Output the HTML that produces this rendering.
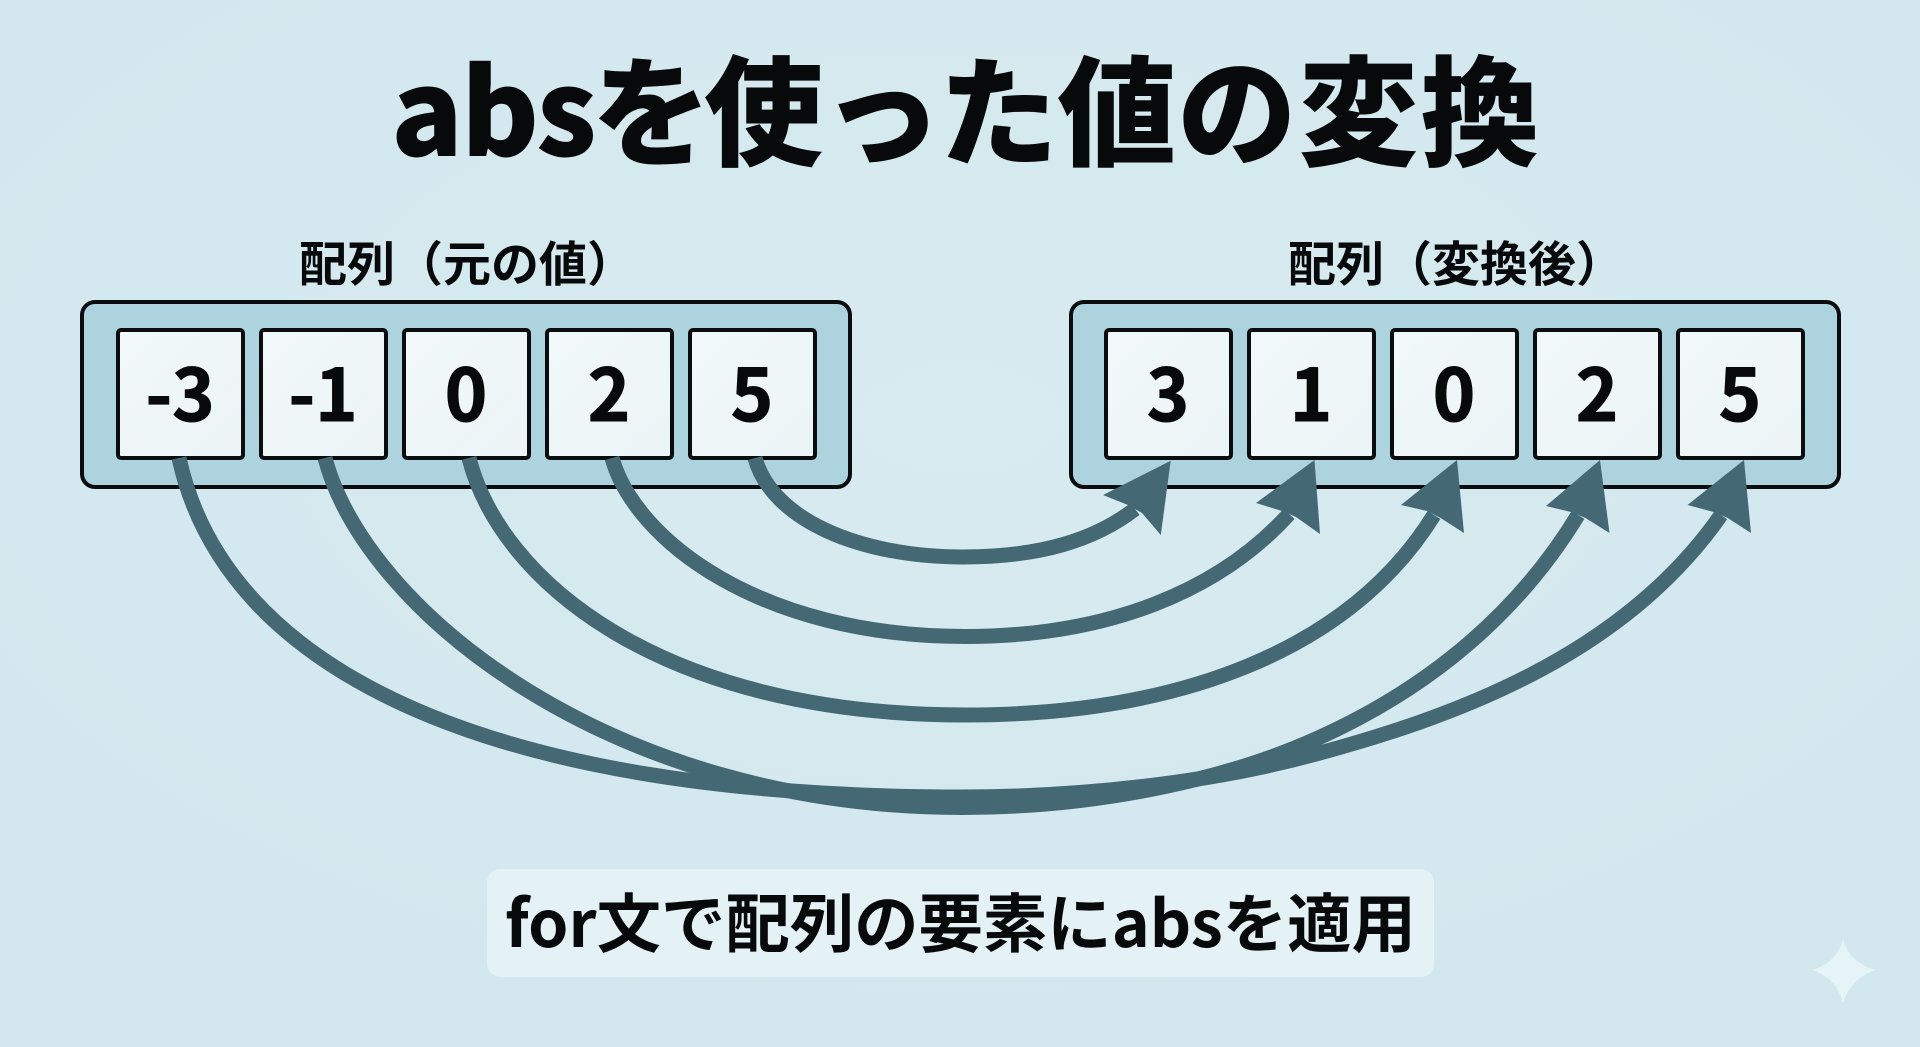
<!DOCTYPE html>
<html lang="ja"><head><meta charset="utf-8"><title>abs</title>
<style>
html,body{margin:0;padding:0;width:1920px;height:1047px;overflow:hidden;background:#d4e9ef}
svg{display:block}
text{font-family:"Noto Sans CJK JP","Liberation Sans",sans-serif;font-weight:700;fill:#08090a}
.n{font-size:72px;text-anchor:middle;stroke:#08090a;stroke-width:1}
.l{font-size:48px}
</style></head><body>
<svg width="1920" height="1047" viewBox="0 0 1920 1047" xmlns="http://www.w3.org/2000/svg">
<defs>
<radialGradient id="bg" cx="50%" cy="40%" r="75%"><stop offset="0" stop-color="#d7ebf0"/><stop offset="1" stop-color="#d2e7ee"/></radialGradient>
<linearGradient id="cell" x1="0" y1="0" x2="1" y2="1"><stop offset="0" stop-color="#f2f8f9"/><stop offset="1" stop-color="#ebf4f6"/></linearGradient>
</defs>
<rect width="1920" height="1047" fill="url(#bg)"/>
<text x="391 461 536 592 704 822.5 939 1057.5 1177.5 1299 1420.5" y="156" font-size="119" style="font-weight:900">absを使った値の変換</text>
<text class="l" x="299" y="281">配列（元の値）</text>
<text class="l" x="1288" y="281">配列（変換後）</text>
<g fill="#add3df" stroke="#0a0c0e" stroke-width="4">
<rect x="82" y="302" width="768" height="185" rx="13"/>
<rect x="1071" y="302" width="768" height="185" rx="13"/>
</g>
<g fill="url(#cell)" stroke="#0a0c0e" stroke-width="4">
<rect x="118" y="330" width="125" height="128" rx="3"/>
<rect x="261" y="330" width="125" height="128" rx="3"/>
<rect x="404" y="330" width="125" height="128" rx="3"/>
<rect x="547" y="330" width="125" height="128" rx="3"/>
<rect x="690" y="330" width="125" height="128" rx="3"/>
<rect x="1106" y="330" width="125" height="128" rx="3"/>
<rect x="1249" y="330" width="125" height="128" rx="3"/>
<rect x="1392" y="330" width="125" height="128" rx="3"/>
<rect x="1535" y="330" width="125" height="128" rx="3"/>
<rect x="1678" y="330" width="125" height="128" rx="3"/>
</g>
<g class="nums">
<text class="n" x="180" y="421">-3</text>
<text class="n" x="323" y="421">-1</text>
<text class="n" x="466" y="421">0</text>
<text class="n" x="609" y="421">2</text>
<text class="n" x="752" y="421">5</text>
<text class="n" x="1168" y="421">3</text>
<text class="n" x="1311" y="421">1</text>
<text class="n" x="1454" y="421">0</text>
<text class="n" x="1597" y="421">2</text>
<text class="n" x="1740" y="421">5</text>
</g>
<g fill="none" stroke="#456875" stroke-width="15">
<path d="M179,458 C225,668 482,797 962,797 C1080,797 1210,783 1316,754 C1445,719 1620,660 1721,515"/>
<path d="M325,458 C365,610 610,807.5 962,807.5 C1090,807.5 1220,782 1316,739 C1400,701.5 1505,635 1578,515"/>
<path d="M469,458 C500,580 660,715 965,715 C1180,715 1350,650 1434,515"/>
<path d="M612,458 C635,540 760,636.5 965,636.5 C1110,636.5 1220,590 1289,514"/>
<path d="M755,458 C772,520 860,557 963,557 C1040,557 1095,540 1135,509"/>
</g>
<g fill="#456875">
<polygon points="1170.7,460.7 1103,495 1128,505 1142,513 1160.8,535"/>
<polygon points="1314.5,460 1256,503 1282,511 1296,517 1320,534"/>
<polygon points="1457,460 1401,505 1427,511 1440.6,518 1464,533"/>
<polygon points="1600,460 1546,506 1571,512 1585.5,518 1609.5,533"/>
<polygon points="1744,460 1687.5,505 1713.6,512 1727.7,518 1751,533"/>
</g>
<rect x="487" y="869" width="947" height="108" rx="13" fill="#e4f1f5"/>
<text x="505" y="947" font-size="64.4">for文で配列の要素にabsを適用</text>
<path d="M1843,938 C1847,955 1858,965 1876,970 C1858,976 1849,986 1843,1003 C1838,986 1829,976 1812,970 C1829,965 1839,955 1843,938 Z" fill="#e6f3f7"/>
</svg>
</body></html>
